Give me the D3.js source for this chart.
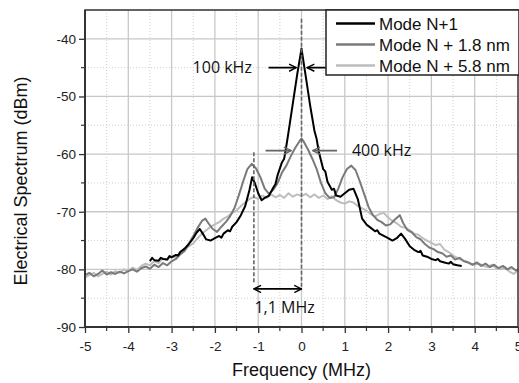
<!DOCTYPE html>
<html>
<head>
<meta charset="utf-8">
<script src="https://cdn.jsdelivr.net/npm/d3@7"></script>
<style>
  body { margin: 0; background: #fff; }
  svg { display: block; font-family: "Liberation Sans", Arial, sans-serif; }
  .lbl { font-family: "Open Sans", "Liberation Sans", sans-serif; }
</style>
</head>
<body>
<div id="chart"></div>
<script>
// Mode N+1 : [MHz, dBm]
const modeN1 = [[-3.5,-78.6],[-3.45,-78.0],[-3.4,-78.4],[-3.3,-78.5],[-3.25,-78.0],[-3.2,-78.2],[-3.1,-78.3],[-3.05,-77.7],[-3.0,-77.9],[-2.9,-77.5],[-2.85,-77.6],[-2.8,-77.0],[-2.7,-76.4],[-2.6,-75.6],[-2.5,-74.6],[-2.42,-73.6],[-2.35,-73.0],[-2.28,-73.8],[-2.2,-74.8],[-2.1,-75.0],[-2.0,-74.6],[-1.9,-74.2],[-1.85,-74.5],[-1.8,-73.8],[-1.7,-73.2],[-1.65,-73.4],[-1.6,-72.6],[-1.5,-71.8],[-1.4,-70.6],[-1.3,-69.0],[-1.2,-66.2],[-1.14,-64.0],[-1.08,-65.0],[-1.0,-66.8],[-0.92,-68.0],[-0.85,-67.6],[-0.75,-67.2],[-0.65,-65.8],[-0.6,-65.2],[-0.55,-63.6],[-0.45,-61.4],[-0.4,-60.8],[-0.35,-58.6],[-0.3,-56.2],[-0.2,-51.2],[-0.1,-46.2],[0.0,-41.7],[0.1,-46.6],[0.2,-51.6],[0.3,-56.0],[0.35,-57.4],[0.4,-59.6],[0.5,-62.6],[0.55,-63.0],[0.6,-64.8],[0.7,-66.2],[0.75,-66.0],[0.8,-67.2],[0.9,-67.4],[1.0,-66.8],[1.1,-66.2],[1.2,-66.0],[1.3,-67.8],[1.4,-71.2],[1.5,-72.2],[1.6,-72.8],[1.7,-73.4],[1.75,-73.2],[1.8,-73.8],[1.9,-74.2],[2.0,-74.6],[2.1,-75.0],[2.2,-74.6],[2.3,-73.8],[2.4,-74.8],[2.5,-76.0],[2.6,-76.6],[2.7,-77.0],[2.75,-76.8],[2.8,-77.6],[2.9,-77.8],[3.0,-78.2],[3.1,-78.4],[3.15,-78.2],[3.2,-78.6],[3.3,-78.8],[3.4,-79.0],[3.45,-78.7],[3.5,-79.1],[3.6,-79.3],[3.7,-79.4]];

// Mode N + 1.8 nm
const modeN18 = [[-5.0,-81.0],[-4.9,-80.6],[-4.8,-81.2],[-4.7,-80.8],[-4.6,-80.2],[-4.5,-80.9],[-4.4,-80.5],[-4.3,-80.8],[-4.2,-80.4],[-4.1,-80.7],[-4.0,-80.3],[-3.9,-80.0],[-3.8,-80.4],[-3.7,-79.8],[-3.6,-79.5],[-3.5,-79.9],[-3.4,-79.2],[-3.3,-79.6],[-3.2,-78.9],[-3.1,-79.3],[-3.0,-78.6],[-2.9,-78.2],[-2.8,-77.4],[-2.7,-76.8],[-2.6,-75.5],[-2.5,-74.2],[-2.4,-72.8],[-2.3,-71.6],[-2.22,-71.2],[-2.15,-72.0],[-2.05,-73.0],[-1.95,-73.5],[-1.85,-72.6],[-1.75,-71.8],[-1.65,-70.8],[-1.55,-69.4],[-1.45,-67.2],[-1.35,-64.8],[-1.25,-62.6],[-1.15,-61.7],[-1.05,-62.5],[-0.95,-64.0],[-0.85,-66.0],[-0.75,-66.9],[-0.65,-66.2],[-0.55,-65.0],[-0.45,-63.2],[-0.35,-62.0],[-0.25,-60.4],[-0.15,-59.0],[-0.05,-57.8],[0.0,-57.3],[0.05,-57.8],[0.15,-59.2],[0.25,-60.8],[0.35,-62.6],[0.45,-65.0],[0.55,-66.8],[0.65,-67.6],[0.75,-67.5],[0.85,-66.0],[0.95,-64.0],[1.05,-62.6],[1.15,-62.0],[1.25,-62.8],[1.35,-64.8],[1.45,-67.0],[1.55,-69.2],[1.65,-70.6],[1.75,-71.4],[1.85,-71.8],[1.95,-72.4],[2.05,-72.2],[2.15,-71.4],[2.27,-70.6],[2.35,-72.0],[2.45,-73.2],[2.55,-73.6],[2.65,-74.4],[2.75,-74.8],[2.85,-75.6],[2.95,-76.2],[3.05,-76.5],[3.15,-77.0],[3.25,-77.2],[3.35,-77.8],[3.45,-77.6],[3.55,-78.3],[3.65,-78.0],[3.75,-78.6],[3.85,-78.8],[3.95,-79.2],[4.05,-78.8],[4.15,-79.4],[4.25,-79.0],[4.35,-79.6],[4.45,-79.2],[4.55,-79.8],[4.65,-79.4],[4.75,-80.0],[4.85,-79.6],[4.95,-80.2],[5.0,-80.0]];

// Mode N + 5.8 nm
const modeN58 = [[-5.0,-81.4],[-4.9,-81.0],[-4.8,-80.6],[-4.7,-81.2],[-4.6,-80.8],[-4.5,-80.4],[-4.4,-80.9],[-4.3,-80.3],[-4.2,-80.6],[-4.1,-80.0],[-4.0,-80.3],[-3.9,-79.7],[-3.8,-80.1],[-3.7,-79.4],[-3.6,-79.0],[-3.5,-79.3],[-3.4,-78.6],[-3.3,-78.9],[-3.2,-78.1],[-3.1,-78.4],[-3.0,-77.6],[-2.9,-77.9],[-2.8,-77.0],[-2.7,-76.6],[-2.6,-76.0],[-2.5,-75.5],[-2.4,-74.6],[-2.3,-73.8],[-2.2,-73.2],[-2.1,-72.6],[-2.0,-72.2],[-1.9,-71.8],[-1.8,-71.2],[-1.7,-70.8],[-1.6,-70.2],[-1.5,-69.8],[-1.4,-69.0],[-1.3,-68.4],[-1.2,-67.8],[-1.1,-67.4],[-1.0,-67.8],[-0.9,-67.2],[-0.8,-67.6],[-0.7,-67.0],[-0.6,-67.5],[-0.5,-67.1],[-0.4,-67.6],[-0.3,-66.8],[-0.2,-67.4],[-0.1,-67.0],[0.0,-67.3],[0.1,-66.9],[0.2,-67.5],[0.3,-67.0],[0.4,-67.6],[0.5,-67.2],[0.6,-67.8],[0.7,-67.3],[0.8,-68.0],[0.9,-68.4],[1.0,-68.6],[1.1,-68.2],[1.2,-68.4],[1.3,-69.0],[1.4,-69.4],[1.5,-69.8],[1.6,-70.4],[1.7,-70.8],[1.8,-70.4],[1.9,-70.2],[2.0,-71.0],[2.1,-71.6],[2.2,-72.0],[2.3,-72.6],[2.4,-72.8],[2.5,-73.2],[2.6,-73.8],[2.7,-74.0],[2.8,-74.6],[2.9,-75.0],[3.0,-75.4],[3.1,-75.8],[3.2,-75.6],[3.3,-76.6],[3.4,-77.0],[3.5,-77.6],[3.6,-78.0],[3.7,-78.4],[3.8,-78.6],[3.9,-79.0],[4.0,-79.2],[4.1,-79.0],[4.2,-79.4],[4.3,-79.6],[4.4,-79.2],[4.5,-79.8],[4.6,-80.0],[4.7,-79.6],[4.8,-80.4],[4.9,-80.8],[5.0,-80.2]];

const seriesNames = ['Mode N+1', 'Mode N + 1.8 nm', 'Mode N + 5.8 nm'];
const xTicks = [-5, -4, -3, -2, -1, 0, 1, 2, 3, 4, 5];
const yTicks = [-90, -80, -70, -60, -50, -40];

const width = 519;
const height = 383;
const margin = {top: 10, right: 1, bottom: 56, left: 85};
const chartWidth = width - margin.left - margin.right;
const chartHeight = height - margin.top - margin.bottom;
const colors = ['#000000', '#7a7a7a', '#bdbdbd'];

const xScale = d3.scaleLinear().domain([-5, 5]).range([0, chartWidth]);
const yScale = d3.scaleLinear().domain([-90, -35]).range([chartHeight, 0]);

const svg = d3.select('#chart').append('svg')
    .attr('width', width)
    .attr('height', height);

const g = svg.append('g')
    .attr('transform', `translate(${margin.left},${margin.top})`);

// grid: minor dotted, major solid
const xMinor = d3.range(-4.5, 5, 1);
const yMinor = [-85, -75, -65, -55, -45, -35];
g.append('g').selectAll('line').data(xMinor).join('line')
    .attr('x1', d => xScale(d)).attr('x2', d => xScale(d))
    .attr('y1', 0).attr('y2', chartHeight)
    .attr('stroke', '#cfcfcf').attr('stroke-dasharray', '1,2');
g.append('g').selectAll('line').data(yMinor).join('line')
    .attr('x1', 0).attr('x2', chartWidth)
    .attr('y1', d => yScale(d)).attr('y2', d => yScale(d))
    .attr('stroke', '#cfcfcf').attr('stroke-dasharray', '1,2');
g.append('g').selectAll('line').data(xTicks.slice(1, -1)).join('line')
    .attr('x1', d => xScale(d)).attr('x2', d => xScale(d))
    .attr('y1', 0).attr('y2', chartHeight)
    .attr('stroke', '#c8c8c8').attr('stroke-width', 1.3);
g.append('g').selectAll('line').data(yTicks.slice(1)).join('line')
    .attr('x1', 0).attr('x2', chartWidth)
    .attr('y1', d => yScale(d)).attr('y2', d => yScale(d))
    .attr('stroke', '#c8c8c8').attr('stroke-width', 1.3);

// curves (drawn back to front)
const line = d3.line().x(d => xScale(d[0])).y(d => yScale(d[1]));
const allSeries = [modeN1, modeN18, modeN58];
[2, 1, 0].forEach(i => {
    g.append('path')
        .datum(allSeries[i])
        .attr('fill', 'none')
        .attr('stroke', colors[i])
        .attr('stroke-width', 2)
        .attr('stroke-linejoin', 'round')
        .attr('d', line);
});

// annotations
const defs = svg.append('defs');
function addMarker(id, color) {
    defs.append('marker')
        .attr('id', id)
        .attr('viewBox', '0 0 10 10')
        .attr('refX', 9).attr('refY', 5)
        .attr('markerWidth', 9).attr('markerHeight', 9)
        .attr('markerUnits', 'userSpaceOnUse')
        .attr('orient', 'auto-start-reverse')
      .append('path')
        .attr('d', 'M1,1 L9,5 L1,9')
        .attr('fill', 'none')
        .attr('stroke', color)
        .attr('stroke-width', 1.6);
}
addMarker('arrBlack', '#000');
addMarker('arrGray', '#666');

const dash = [[0, -36.5, -83.5], [-1.1, -59.7, -82.5]];
g.append('g').selectAll('line').data(dash).join('line')
    .attr('x1', d => xScale(d[0])).attr('x2', d => xScale(d[0]))
    .attr('y1', d => yScale(d[1])).attr('y2', d => yScale(d[2]))
    .attr('stroke', '#666').attr('stroke-width', 1.6)
    .attr('stroke-dasharray', '4,2');

function arrow(x1, x2, y, color, marker, both) {
    const a = g.append('line')
        .attr('x1', xScale(x1)).attr('x2', xScale(x2))
        .attr('y1', yScale(y)).attr('y2', yScale(y))
        .attr('stroke', color).attr('stroke-width', 1.8)
        .attr('marker-end', `url(#${marker})`);
    if (both) a.attr('marker-start', `url(#${marker})`);
}
arrow(-0.76, -0.12, -45, '#000', 'arrBlack');
arrow(0.56, 0.13, -45, '#000', 'arrBlack');
arrow(-0.83, -0.24, -59.4, '#666', 'arrGray');
arrow(0.82, 0.26, -59.4, '#666', 'arrGray');
arrow(-1.1, 0, -83.4, '#000', 'arrBlack', true);

const notes = [['100 kHz', -1.83, -45], ['400 kHz', 1.85, -59.4], ['1,1 MHz', -0.39, -86.5]];
g.append('g').selectAll('text').data(notes).join('text')
    .attr('class', 'lbl')
    .attr('x', d => xScale(d[1]))
    .attr('y', d => yScale(d[2]))
    .attr('dy', '0.36em')
    .attr('text-anchor', 'middle')
    .attr('font-size', 16)
    .attr('fill', '#111')
    .text(d => d[0]);

// frame
g.append('rect')
    .attr('width', chartWidth).attr('height', chartHeight)
    .attr('fill', 'none').attr('stroke', '#333').attr('stroke-width', 1.5);
g.append('line').attr('x1', 0).attr('x2', 0).attr('y1', 0).attr('y2', chartHeight)
    .attr('stroke', '#333').attr('stroke-width', 2);
g.append('line').attr('x1', 0).attr('x2', chartWidth).attr('y1', chartHeight).attr('y2', chartHeight)
    .attr('stroke', '#333').attr('stroke-width', 2);

// axes
const xAxis = d3.axisBottom(xScale).tickValues(xTicks).tickSize(6).tickPadding(8).tickFormat(d3.format('d'));
const yAxis = d3.axisLeft(yScale).tickValues(yTicks).tickSize(6).tickPadding(3).tickFormat(d3.format('d'));

const xg = g.append('g').attr('transform', `translate(0,${chartHeight})`).call(xAxis);
const yg = g.append('g').call(yAxis);
[xg, yg].forEach(ax => {
    ax.select('.domain').remove();
    ax.selectAll('line').attr('stroke', '#333').attr('stroke-width', 1.3);
    ax.selectAll('text').attr('font-size', 13.5).attr('fill', '#222')
        .attr('font-family', '"Liberation Sans", Arial, sans-serif');
});
xg.selectAll('.tick text').text(d => d < 0 ? '-' + Math.abs(d) : d);
yg.selectAll('.tick text').text(d => '-' + Math.abs(d));

// minor ticks
g.append('g').selectAll('line').data(xMinor).join('line')
    .attr('x1', d => xScale(d)).attr('x2', d => xScale(d))
    .attr('y1', chartHeight).attr('y2', chartHeight + 4)
    .attr('stroke', '#333').attr('stroke-width', 1.2);
g.append('g').selectAll('line').data(yMinor.slice(0, -1)).join('line')
    .attr('x1', -4).attr('x2', 0)
    .attr('y1', d => yScale(d)).attr('y2', d => yScale(d))
    .attr('stroke', '#333').attr('stroke-width', 1.2);

// axis titles
svg.append('text')
    .attr('x', margin.left + xScale(0))
    .attr('y', 376)
    .attr('text-anchor', 'middle')
    .attr('font-size', 18).attr('fill', '#111')
    .text('Frequency (MHz)');
svg.append('text')
    .attr('transform', 'translate(21,181) rotate(-90)')
    .attr('text-anchor', 'middle')
    .attr('dy', '0.36em')
    .attr('font-size', 18).attr('fill', '#111')
    .text('Electrical Spectrum (dBm)');

// legend
const legend = svg.append('g').attr('transform', 'translate(326,10)');
legend.append('rect')
    .attr('width', 193).attr('height', 65)
    .attr('fill', '#fff').attr('stroke', '#222').attr('stroke-width', 1.5);
const items = legend.selectAll('g.item').data(seriesNames).join('g')
    .attr('class', 'item')
    .attr('transform', (d, i) => `translate(0,${13.5 + i * 21})`);
items.append('line')
    .attr('x1', 10).attr('x2', 49)
    .attr('stroke', (d, i) => colors[i]).attr('stroke-width', 2.5);
items.append('text')
    .attr('x', 53).attr('dy', '0.36em')
    .attr('font-size', 17).attr('fill', '#111')
    .text(d => d);
</script>
</body>
</html>
